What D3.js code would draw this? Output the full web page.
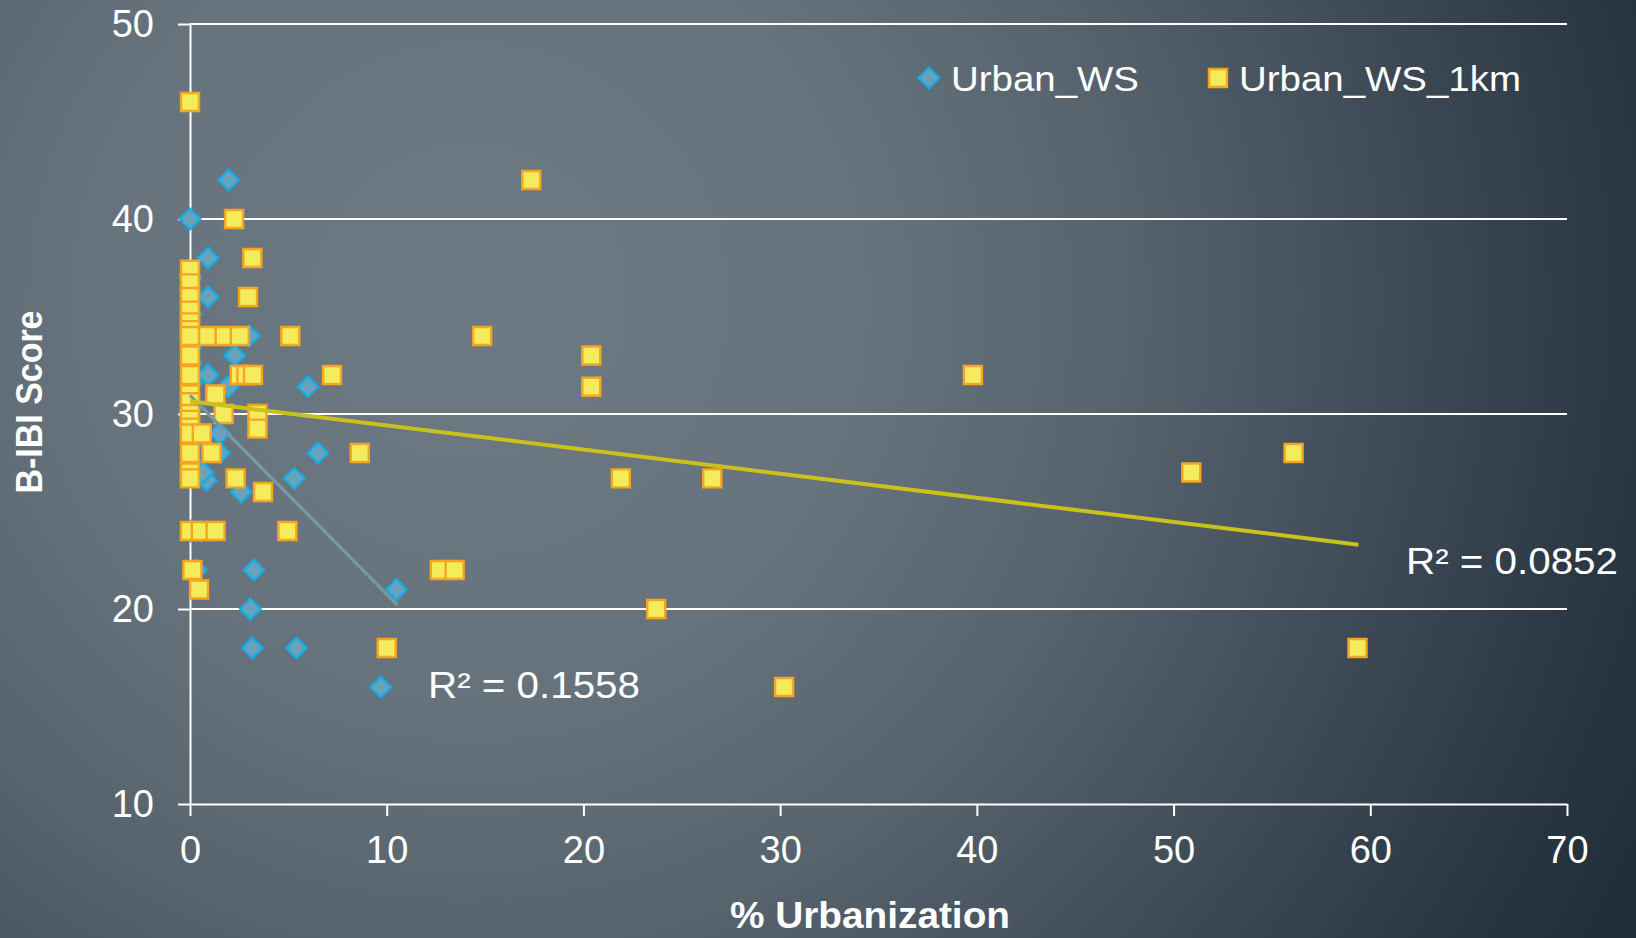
<!DOCTYPE html>
<html>
<head>
<meta charset="utf-8">
<script src="https://cdn.jsdelivr.net/npm/d3@7"></script>
<style>
  body { margin: 0; background: #212d3a; }
  svg { display: block; }
</style>
</head>
<body>
<div id="vis"></div>
<script>
// Urban_WS (diamonds): % urbanization, B-IBI score
let wsX = [1.97, 0, 0.92, 0.92, 3.0, 2.27, 0.92, 1.93, 6.0, 1.5, 1.5, 6.5, 0.83, 0.66, 2.61, 5.3,
  0.32, 3.25, 3.07, 3.17, 5.42, 10.5, 9.7,
  0.05, 0.05, 0.05, 0.05, 0.05, 0.05, 0.05, 0.05, 0.05, 0.05, 0.05, 0.58];
let wsY = [42, 40, 38, 36, 34, 33, 32, 31.4, 31.4, 29, 28, 28, 26.6, 27, 26, 26.7,
  22, 22, 20, 18, 18, 21, 16,
  37, 35.1, 34, 33.4, 32.6, 31.6, 30.4, 29.4, 28.4, 27.5, 24, 24];

// Urban_WS_1km (squares)
let kmX = [0, 17.35, 2.24, 3.17, 2.95,
  0, 0, 0, 0, 0, 0, 0, 0, 0, 0, 0, 0, 0, 0, 0, 0, 0, 0,
  0.92, 1.76, 2.53, 5.1, 14.85, 20.4,
  2.53, 2.87, 3.2, 7.22, 39.8,
  1.29, 20.4, 1.71, 3.43, 3.43,
  0.6, 1.09, 8.63, 56.1,
  2.32, 21.9, 26.55, 50.9, 3.71,
  0, 0.55, 1.3, 4.95,
  0.12, 12.7, 13.45, 0.46,
  23.7, 10.0, 59.35, 30.2];
let kmY = [46, 42, 40, 38, 36,
  37.4, 36.7, 36, 35.3, 34.7, 34.3, 34, 33, 32, 31, 30.6, 30, 29.7, 29.3, 29, 28, 27, 26.7,
  34, 34, 34, 34, 34, 33,
  32, 32, 32, 32, 32,
  31, 31.4, 30, 30, 29.25,
  29, 28, 28, 28,
  26.7, 26.7, 26.7, 27, 26,
  24, 24, 24, 24,
  22, 22, 22, 21,
  20, 18, 18, 16];

let xTicks = [0, 10, 20, 30, 40, 50, 60, 70];
let yTicks = [10, 20, 30, 40, 50];

// linear trend lines as drawn in the chart: [xStart, yStart, xEnd, yEnd]
let wsTrend = [0, 30.95, 10.55, 20.2];
let kmTrend = [0, 30.65, 59.4, 23.3];
let wsR2 = "R² = 0.1558";
let kmR2 = "R² = 0.0852";
let seriesNames = ["Urban_WS", "Urban_WS_1km"];

const W = 1636, H = 938;
const FONT = '"Liberation Sans", Arial, sans-serif';

let svg = d3.select('#vis').append('svg')
  .attr('width', W)
  .attr('height', H);

// background
let grad = svg.append('defs').append('radialGradient')
  .attr('id', 'bg')
  .attr('gradientUnits', 'userSpaceOnUse')
  .attr('cx', 470).attr('cy', 300).attr('r', 1320);
[[0, '#6e7a83'], [0.3, '#67737c'], [0.5, '#56626c'], [0.7, '#3f4b57'], [0.88, '#2a3642'], [1, '#202c38']]
  .forEach(s => grad.append('stop').attr('offset', s[0]).attr('stop-color', s[1]));
svg.append('rect').attr('width', W).attr('height', H).attr('fill', 'url(#bg)');

let x = d3.scaleLinear().domain([0, 70]).range([190, 1567]);
let y = d3.scaleLinear().domain([10, 50]).range([804, 24]);

// gridlines
svg.append('g')
  .selectAll('line')
  .data(yTicks.slice(1))
  .join('line')
  .attr('x1', x(0)).attr('x2', x(70))
  .attr('y1', d => y(d)).attr('y2', d => y(d))
  .attr('stroke', '#fff')
  .attr('stroke-width', 2);

// axes
let yAxis = svg.append('g')
  .attr('transform', `translate(${x(0)},0)`)
  .call(d3.axisLeft(y).tickValues(yTicks).tickSizeInner(12).tickSizeOuter(0).tickPadding(24));
let xAxis = svg.append('g')
  .attr('transform', `translate(0,${y(10)})`)
  .call(d3.axisBottom(x).tickValues(xTicks).tickSizeInner(12).tickSizeOuter(0).tickPadding(20));

[xAxis, yAxis].forEach(g => {
  g.attr('font-family', FONT).attr('font-size', 38);
  g.select('.domain').attr('stroke', '#fff').attr('stroke-width', 2);
  g.selectAll('.tick line').attr('stroke', '#fff').attr('stroke-width', 2);
  g.selectAll('.tick text').attr('fill', '#fff');
});

// series markers
let diamond = d3.symbol().type(d3.symbolSquare).size(215);
let square = d3.symbol().type(d3.symbolSquare).size(324);

svg.append('g')
  .selectAll('path')
  .data(d3.range(wsX.length))
  .join('path')
  .attr('d', diamond)
  .attr('transform', i => `translate(${x(wsX[i])},${y(wsY[i])}) rotate(45)`)
  .attr('fill', '#6aa1bb')
  .attr('stroke', '#12aeea')
  .attr('stroke-width', 2.2);

svg.append('g')
  .selectAll('path')
  .data(d3.range(kmX.length))
  .join('path')
  .attr('d', square)
  .attr('transform', i => `translate(${x(kmX[i])},${y(kmY[i])})`)
  .attr('fill', '#f4ec5c')
  .attr('stroke', '#f6a520')
  .attr('stroke-width', 2.4);

// trend lines
svg.append('line')
  .attr('x1', x(wsTrend[0])).attr('y1', y(wsTrend[1]))
  .attr('x2', x(wsTrend[2])).attr('y2', y(wsTrend[3]))
  .attr('stroke', '#7898a6')
  .attr('stroke-width', 3.2);
svg.append('line')
  .attr('x1', x(kmTrend[0])).attr('y1', y(kmTrend[1]))
  .attr('x2', x(kmTrend[2])).attr('y2', y(kmTrend[3]))
  .attr('stroke', '#cbc11c')
  .attr('stroke-width', 4);

// R² labels
svg.append('text')
  .attr('x', 428).attr('y', 698)
  .attr('font-family', FONT).attr('font-size', 36).attr('fill', '#fff')
  .attr('textLength', 212).attr('lengthAdjust', 'spacingAndGlyphs')
  .text(wsR2);
svg.append('text')
  .attr('x', 1406).attr('y', 574)
  .attr('font-family', FONT).attr('font-size', 36).attr('fill', '#fff')
  .attr('textLength', 212).attr('lengthAdjust', 'spacingAndGlyphs')
  .text(kmR2);

// legend
let legend = svg.append('g').attr('font-family', FONT).attr('font-size', 35).attr('fill', '#fff');
legend.append('path')
  .attr('d', diamond)
  .attr('transform', 'translate(929,78) rotate(45)')
  .attr('fill', '#6aa1bb').attr('stroke', '#12aeea').attr('stroke-width', 2.2);
legend.append('text').attr('x', 951).attr('y', 91)
  .attr('textLength', 188).attr('lengthAdjust', 'spacingAndGlyphs')
  .text(seriesNames[0]);
legend.append('path')
  .attr('d', square)
  .attr('transform', 'translate(1218,78)')
  .attr('fill', '#f4ec5c').attr('stroke', '#f6a520').attr('stroke-width', 2.4);
legend.append('text').attr('x', 1239).attr('y', 91)
  .attr('textLength', 282).attr('lengthAdjust', 'spacingAndGlyphs')
  .text(seriesNames[1]);

// axis titles
svg.append('text')
  .attr('x', 870).attr('y', 928)
  .attr('text-anchor', 'middle')
  .attr('font-family', FONT).attr('font-weight', 'bold').attr('font-size', 37).attr('fill', '#fff')
  .attr('textLength', 280).attr('lengthAdjust', 'spacingAndGlyphs')
  .text('% Urbanization');
svg.append('text')
  .attr('transform', 'translate(42,402) rotate(-90)')
  .attr('text-anchor', 'middle')
  .attr('font-family', FONT).attr('font-weight', 'bold').attr('font-size', 36).attr('fill', '#fff')
  .attr('textLength', 183).attr('lengthAdjust', 'spacingAndGlyphs')
  .text('B-IBI Score');
</script>
</body>
</html>
